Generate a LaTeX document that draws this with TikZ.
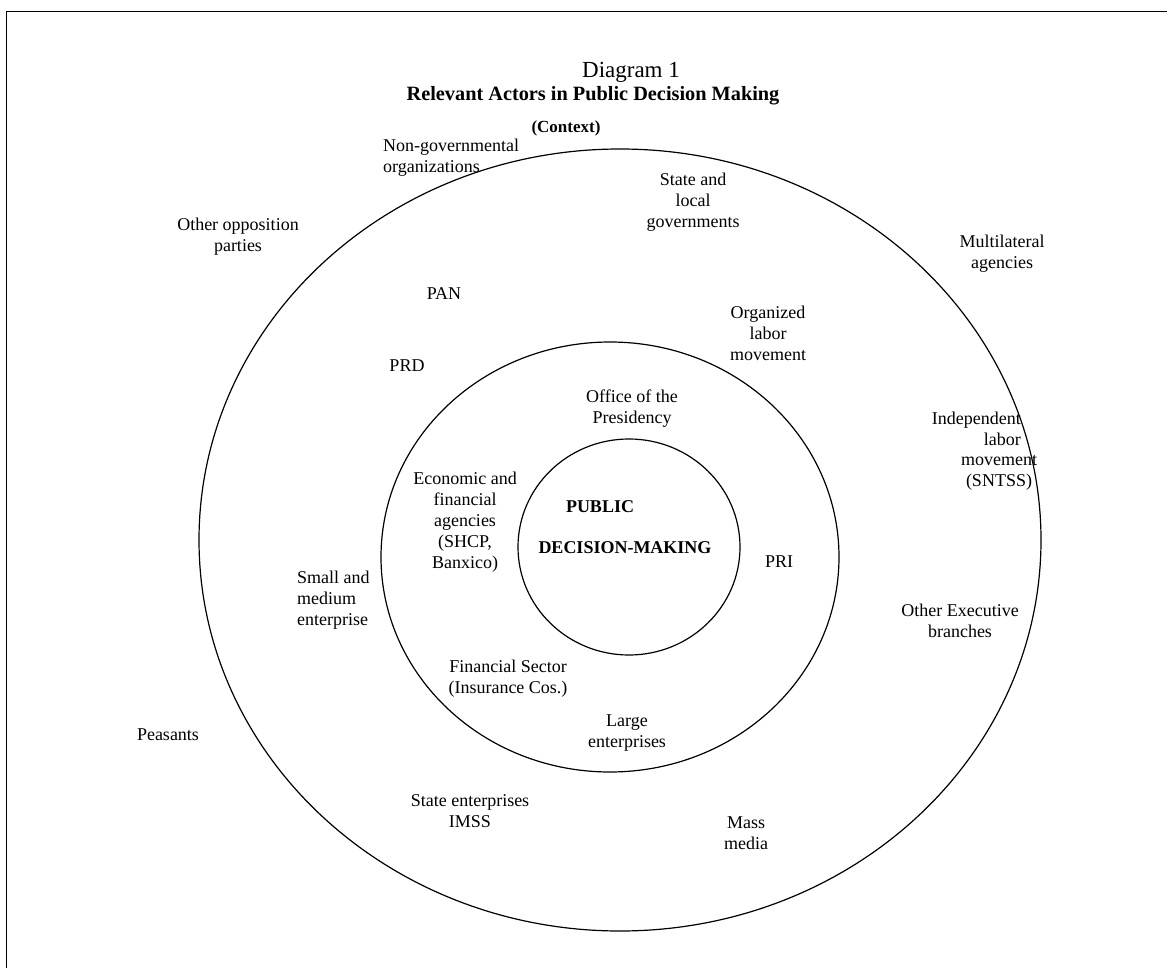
\documentclass[tikz,border=0pt]{standalone}
\usepackage{fontspec}
\setmainfont{Liberation Serif}
\begin{document}
\begin{tikzpicture}[x=1pt,y=-1pt,
    actor/.style={inner sep=0pt, align=center, font=\fontsize{18}{21}\selectfont},
    ring/.style={line width=1.2pt}]
    \useasboundingbox (0,0) rectangle (1167,968);
    % frame, cut at the right and bottom edges
    \draw[line width=1.5pt] (6.5,968) -- (6.5,11.5) -- (1167,11.5);
    % the three rings
    \draw[ring] (620,540) ellipse [x radius=421, y radius=391];
    \draw[ring] (610,557) ellipse [x radius=229, y radius=215];
    \draw[ring] (629,547) ellipse [x radius=111, y radius=108];
    % titles
    \node[actor, font=\fontsize{23}{27}\selectfont] (diag) at (631,72) {Diagram 1};
    \node[actor, font=\fontsize{20.3}{24}\bfseries] (title) at (593,96) {Relevant Actors in Public Decision Making};
    \node[actor, font=\fontsize{17}{20}\bfseries] (ctx) at (566,128) {(Context)};
    % outer ring
    \node[actor, align=left, anchor=west] (ngo) at (383,158) {Non-governmental\\organizations};
    \node[actor] (state) at (693,202) {State and\\local\\governments};
    \node[actor] (opp) at (238,237) {Other opposition\\parties};
    \node[actor] (multi) at (1002,254) {Multilateral\\agencies};
    \node[actor] (pan) at (444,294) {PAN};
    \node[actor] (olabor) at (768,333) {Organized\\labor\\movement};
    \node[actor, align=right, anchor=east] (ilabor) at (1021,429) {Independent\\labor};
    \node[actor] (ilabor2) at (999,473) {movement\\(SNTSS)};
    \node[actor, align=left, anchor=west] (sme) at (297,600) {Small and\\medium\\enterprise};
    \node[actor] (exec) at (960,621) {Other Executive\\branches};
    \node[actor] (peas) at (168,735) {Peasants};
    \node[actor] (stent) at (470,811) {State enterprises\\IMSS};
    \node[actor] (media) at (746,833) {Mass\\media};
    % middle ring
    \node[actor] (prd) at (407,366) {PRD};
    \node[actor] (pres) at (632,409) {Office of the\\Presidency};
    \node[actor] (econ) at (465,522) {Economic and\\financial\\agencies\\(SHCP,\\Banxico)};
    \node[actor] (pri) at (779,562) {PRI};
    \node[actor] (fin) at (508,679) {Financial Sector\\(Insurance Cos.)};
    \node[actor] (large) at (627,733) {Large\\enterprises};
    % core
    \node[actor, font=\fontsize{18}{21}\bfseries] (pub) at (600,507) {PUBLIC};
    \node[actor, font=\fontsize{18}{21}\bfseries] (dm) at (625,548) {DECISION-MAKING};
\end{tikzpicture}
\end{document}
